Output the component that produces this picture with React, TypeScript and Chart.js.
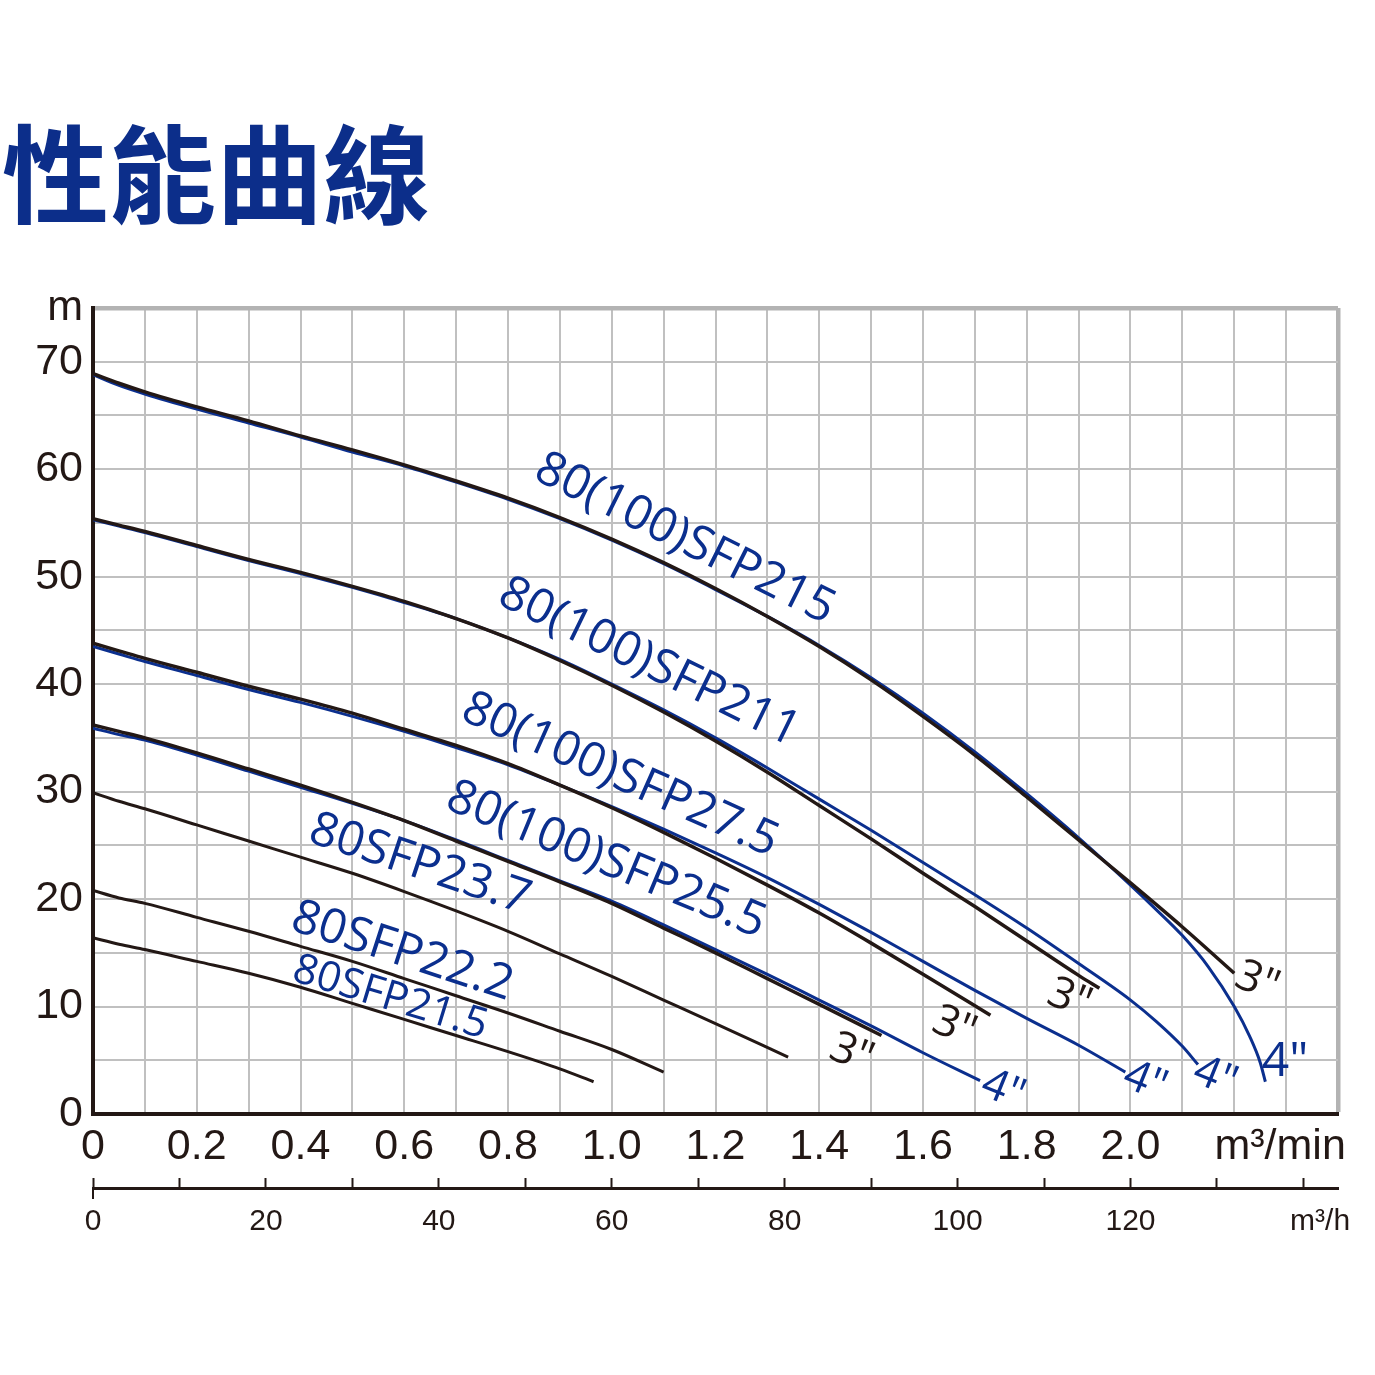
import React, { useEffect, useRef } from "react";
import { Chart, registerables } from "chart.js";

Chart.register(...registerables);

// ---------------- data (flow m³/min, head m) ----------------
const flow215In3 = [0, 0.05, 0.1, 0.2, 0.3, 0.4, 0.5, 0.6, 0.7, 0.8, 0.9, 1.0, 1.1, 1.2, 1.3, 1.4, 1.5, 1.6, 1.7, 1.8, 1.9, 2.0, 2.1, 2.2];
const head215In3 = [68.9, 68.0, 67.2, 65.8, 64.5, 63.1, 61.8, 60.4, 58.9, 57.3, 55.5, 53.5, 51.3, 48.9, 46.3, 43.5, 40.4, 37.0, 33.4, 29.5, 25.5, 21.5, 17.4, 13.1];
const flow215In4 = [0, 0.05, 0.1, 0.2, 0.3, 0.4, 0.5, 0.6, 0.7, 0.8, 0.9, 1.0, 1.1, 1.2, 1.3, 1.4, 1.5, 1.6, 1.7, 1.8, 1.9, 2.0, 2.05, 2.1, 2.15, 2.2, 2.23, 2.25, 2.26];
const head215In4 = [68.8, 67.8, 67.0, 65.6, 64.3, 63.0, 61.6, 60.3, 58.8, 57.2, 55.4, 53.4, 51.2, 48.8, 46.3, 43.6, 40.6, 37.3, 33.7, 29.8, 25.7, 21.3, 19.0, 16.6, 13.7, 10.0, 7.2, 4.8, 3.0];

const flow211In3 = [0, 0.05, 0.1, 0.2, 0.3, 0.4, 0.5, 0.6, 0.7, 0.8, 0.9, 1.0, 1.1, 1.2, 1.3, 1.4, 1.5, 1.6, 1.7, 1.8, 1.9, 1.94];
const head211In3 = [55.4, 54.8, 54.2, 52.9, 51.6, 50.4, 49.1, 47.7, 46.1, 44.3, 42.2, 39.9, 37.4, 34.7, 31.8, 28.7, 25.6, 22.4, 19.3, 16.1, 12.9, 11.7];
const flow211In4 = [0, 0.05, 0.1, 0.2, 0.3, 0.4, 0.5, 0.6, 0.7, 0.8, 0.9, 1.0, 1.1, 1.2, 1.3, 1.4, 1.5, 1.6, 1.7, 1.8, 1.9, 2.0, 2.05, 2.1, 2.13];
const head211In4 = [55.3, 54.7, 54.1, 52.8, 51.5, 50.3, 49.0, 47.6, 46.1, 44.3, 42.3, 40.0, 37.6, 35.0, 32.2, 29.3, 26.4, 23.4, 20.4, 17.3, 14.0, 10.6, 8.6, 6.3, 4.6];

const flow275In3 = [0, 0.05, 0.1, 0.2, 0.3, 0.4, 0.5, 0.6, 0.7, 0.8, 0.9, 1.0, 1.1, 1.2, 1.3, 1.4, 1.5, 1.6, 1.73];
const head275In3 = [43.8, 43.1, 42.4, 41.1, 39.8, 38.6, 37.3, 35.8, 34.3, 32.6, 30.6, 28.5, 26.2, 23.8, 21.3, 18.7, 15.9, 13.0, 9.2];
const flow275In4 = [0, 0.05, 0.1, 0.2, 0.3, 0.4, 0.5, 0.6, 0.7, 0.8, 0.9, 1.0, 1.1, 1.2, 1.3, 1.4, 1.5, 1.6, 1.7, 1.8, 1.9, 1.99];
const head275In4 = [43.5, 42.8, 42.1, 40.8, 39.5, 38.3, 37.0, 35.6, 34.1, 32.5, 30.6, 28.6, 26.5, 24.3, 22.0, 19.5, 16.9, 14.2, 11.5, 8.9, 6.4, 3.9];

const flow255In3 = [0, 0.05, 0.1, 0.2, 0.3, 0.4, 0.5, 0.6, 0.7, 0.8, 0.9, 1.0, 1.1, 1.2, 1.3, 1.4, 1.52];
const head255In3 = [36.2, 35.6, 35.0, 33.6, 32.1, 30.6, 29.0, 27.3, 25.4, 23.5, 21.6, 19.6, 17.3, 15.0, 12.6, 10.2, 7.3];
const flow255In4 = [0, 0.05, 0.1, 0.2, 0.3, 0.4, 0.5, 0.6, 0.7, 0.8, 0.9, 1.0, 1.1, 1.2, 1.3, 1.4, 1.5, 1.6, 1.71];
const head255In4 = [35.9, 35.3, 34.8, 33.4, 31.9, 30.4, 28.9, 27.3, 25.5, 23.6, 21.7, 19.8, 17.6, 15.3, 13.0, 10.6, 8.2, 5.7, 3.1];

const flow237 = [0, 0.05, 0.1, 0.2, 0.3, 0.4, 0.5, 0.6, 0.7, 0.8, 0.9, 1.0, 1.1, 1.2, 1.34];
const head237 = [29.9, 29.1, 28.4, 26.9, 25.4, 23.9, 22.4, 20.7, 18.9, 17.0, 14.9, 12.8, 10.6, 8.4, 5.3];

const flow222 = [0, 0.05, 0.1, 0.2, 0.3, 0.4, 0.5, 0.6, 0.7, 0.8, 0.9, 1.0, 1.1];
const head222 = [20.8, 20.1, 19.6, 18.3, 17.0, 15.6, 14.2, 12.6, 11.0, 9.4, 7.7, 6.0, 3.9];

const flow215s = [0, 0.05, 0.1, 0.2, 0.3, 0.4, 0.5, 0.6, 0.7, 0.8, 0.9, 0.965];
const head215s = [16.4, 15.8, 15.3, 14.2, 13.1, 11.8, 10.3, 8.8, 7.3, 5.8, 4.2, 3.0];

// ---------------- labels ----------------
const modelNames = ["80(100)SFP215", "80(100)SFP211", "80(100)SFP27.5", "80(100)SFP25.5", "80SFP23.7", "80SFP22.2", "80SFP21.5"];
const modelFlow = [1.141, 1.072, 1.016, 0.989, 0.630, 0.596, 0.573];
const modelHead = [53.5, 42.0, 31.5, 23.6, 23.2, 15.1, 10.8];
const modelAngle = [26.5, 26, 24, 22.5, 18.5, 18, 17];

const pipeNames = ['3"', '3"', '3"', '3"', '4"', '4"', '4"', '4"'];
const pipeFlow = [1.462, 1.660, 1.882, 2.244, 1.754, 2.028, 2.163, 2.298];
const pipeHead = [5.6, 8.1, 10.7, 12.3, 2.2, 3.0, 3.4, 4.8];
const pipeAngle = [22, 22, 22, 22, 22, 22, 22, 0];

const TITLE = "性能曲線";

const INK = "#231815";
const BLUE = "#0b2f8e";
const GRID = "#c0c0c0";
const EDGE = "#b3b3b3";
const AXIS_FONT = "'Liberation Sans', Arial, sans-serif";
const LABEL_FONT = "'Open Sans', 'Noto Sans', sans-serif";

function pts(flow: number[], head: number[]) {
  return flow.map((x, i) => ({ x, y: head[i] }));
}

const annotate = {
  id: "annotate",
  afterDatasetsDraw(chart: any) {
    const { ctx, scales } = chart;
    const xs = scales.x;
    const ys = scales.y;
    const draw = (text: string, fx: number, hy: number, angle: number, color: string, size: number) => {
      ctx.save();
      ctx.translate(xs.getPixelForValue(fx), ys.getPixelForValue(hy));
      ctx.rotate((angle * Math.PI) / 180);
      ctx.font = `${size}px ${LABEL_FONT}`;
      ctx.fillStyle = color;
      ctx.textAlign = "center";
      ctx.textBaseline = "middle";
      ctx.fillText(text, 0, 0);
      ctx.restore();
    };
    modelNames.forEach((t, i) => draw(t, modelFlow[i], modelHead[i], modelAngle[i], BLUE, i === 6 ? 42 : 48));
    pipeNames.forEach((t, i) => draw(t, pipeFlow[i], pipeHead[i], pipeAngle[i], t.startsWith("3") ? INK : BLUE, i === 7 ? 48 : 44));

    const x2 = scales.x2;
    const px = x2.getPixelForValue(0);
    ctx.save();
    ctx.strokeStyle = INK;
    ctx.lineWidth = 2;
    ctx.beginPath();
    ctx.moveTo(px, x2.top);
    ctx.lineTo(px, x2.top + 11);
    ctx.stroke();
    ctx.restore();
  },
};

export default function App() {
  const ref = useRef<HTMLCanvasElement | null>(null);

  useEffect(() => {
    if (!ref.current) return;
    const blackLine = (flow: number[], head: number[], w: number) => ({
      data: pts(flow, head),
      borderColor: INK,
      borderWidth: w,
      pointRadius: 0,
      cubicInterpolationMode: "monotone" as const,
      order: 0,
    });
    const blueLine = (flow: number[], head: number[]) => ({
      data: pts(flow, head),
      borderColor: BLUE,
      borderWidth: 3,
      pointRadius: 0,
      cubicInterpolationMode: "monotone" as const,
      order: 1,
    });

    const chart = new Chart(ref.current, {
      type: "line",
      data: {
        datasets: [
          blackLine(flow215In3, head215In3, 3.5),
          blackLine(flow211In3, head211In3, 3.5),
          blackLine(flow275In3, head275In3, 3.5),
          blackLine(flow255In3, head255In3, 3.5),
          blackLine(flow237, head237, 3),
          blackLine(flow222, head222, 3),
          blackLine(flow215s, head215s, 3),
          blueLine(flow215In4, head215In4),
          blueLine(flow211In4, head211In4),
          blueLine(flow275In4, head275In4),
          blueLine(flow255In4, head255In4),
        ] as any,
      },
      options: {
        animation: false,
        responsive: true,
        maintainAspectRatio: false,
        layout: { padding: { top: 308, right: 37, left: 0, bottom: 0 } },
        plugins: { legend: { display: false }, tooltip: { enabled: false }, title: { display: false } },
        scales: {
          x: {
            type: "linear",
            position: "bottom",
            min: 0,
            max: 2.4,
            weight: 0,
            afterFit: (s: any) => {
              s.height = 74;
              s.paddingRight = 0;
              s.paddingLeft = 0;
            },
            grid: {
              color: (c: any) => (c.tick && Math.abs(c.tick.value - 2.4) < 1e-6 ? EDGE : GRID),
              lineWidth: (c: any) => (c.tick && Math.abs(c.tick.value - 2.4) < 1e-6 ? 4.5 : 2),
              drawTicks: false,
            },
            border: { display: true, color: INK, width: 4 },
            ticks: {
              stepSize: 0.1,
              maxTicksLimit: 200,
              autoSkip: false,
              maxRotation: 0,
              minRotation: 0,
              padding: 7,
              color: INK,
              font: { family: AXIS_FONT, size: 43 },
              callback: (v: any) => {
                const i = Math.round(Number(v) * 10);
                if (i === 23) return "m³/min ";
                if (i % 2 !== 0 || i > 20) return "";
                return i === 0 ? "0" : (i / 10).toFixed(1);
              },
            },
          },
          x2: {
            type: "linear",
            position: "bottom",
            min: 0,
            max: 144,
            weight: 1,
            afterFit: (s: any) => {
              s.height = 187;
              s.paddingRight = 0;
              s.paddingLeft = 0;
            },
            grid: {
              drawOnChartArea: false,
              drawTicks: true,
              tickLength: -10,
              tickWidth: 2,
              tickColor: (c: any) => (c.tick && c.tick.value % 10 === 0 ? INK : "rgba(0,0,0,0)"),
            },
            border: { display: true, color: INK, width: 3 },
            ticks: {
              stepSize: 10,
              includeBounds: false,
              maxTicksLimit: 200,
              autoSkip: false,
              maxRotation: 0,
              minRotation: 0,
              padding: 26,
              color: INK,
              font: { family: AXIS_FONT, size: 30 },
              callback: (v: any) => {
                const n = Math.round(Number(v));
                if (n === 140) return "    m³/h";
                if (n % 20 !== 0 || n > 120) return "";
                return String(n);
              },
            },
          },
          y: {
            type: "linear",
            min: 0,
            max: 75,
            afterFit: (s: any) => {
              s.width = 93;
            },
            grid: {
              color: (c: any) => (c.tick && c.tick.value === 75 ? EDGE : GRID),
              lineWidth: (c: any) => (c.tick && c.tick.value === 75 ? 4.5 : 2),
              drawTicks: false,
            },
            border: { display: true, color: INK, width: 4 },
            ticks: {
              stepSize: 5,
              maxTicksLimit: 200,
              autoSkip: false,
              padding: 10,
              color: INK,
              font: { family: AXIS_FONT, size: 43 },
              callback: (v: any) => {
                const n = Math.round(Number(v));
                if (n === 75) return "m";
                if (n % 10 !== 0) return "";
                return String(n);
              },
            },
          },
        },
      } as any,
      plugins: [annotate],
    });
    return () => chart.destroy();
  }, []);

  return (
    <div style={{ position: "fixed", left: 0, top: 0, width: 1375, height: 1375, background: "#fff" }}>
      <canvas ref={ref} style={{ width: "100%", height: "100%" }} />
      <div
        style={{
          position: "absolute",
          left: 2,
          top: 115,
          fontFamily: "'Noto Sans CJK TC', 'Noto Sans CJK SC', sans-serif",
          fontWeight: 700,
          fontSize: 107,
          lineHeight: 1,
          color: "#0c2e8a",
          whiteSpace: "nowrap",
        }}
      >
        {TITLE}
      </div>
    </div>
  );
}
